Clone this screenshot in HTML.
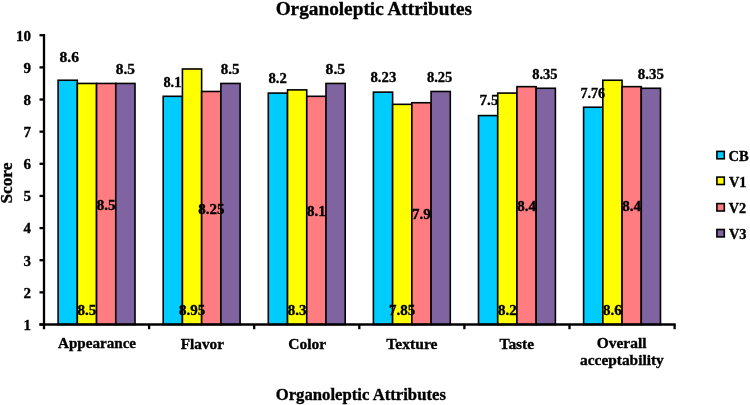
<!DOCTYPE html>
<html><head><meta charset="utf-8"><style>
html,body{margin:0;padding:0;background:#fff;width:750px;height:405px;overflow:hidden}
svg{display:block;will-change:transform}
text{font-family:"Liberation Serif",serif;font-weight:bold;fill:#000;stroke:#000;stroke-width:0.35px}
</style></head><body>
<svg width="750" height="405" viewBox="0 0 750 405">
<rect x="58.10" y="80.24" width="19.22" height="244.26" fill="#00CCFF" stroke="#000" stroke-width="1.6"/>
<rect x="77.33" y="83.45" width="19.22" height="241.05" fill="#FFFF00" stroke="#000" stroke-width="1.6"/>
<rect x="96.55" y="83.45" width="19.22" height="241.05" fill="#FF7C80" stroke="#000" stroke-width="1.6"/>
<rect x="115.78" y="83.45" width="19.22" height="241.05" fill="#8064A2" stroke="#000" stroke-width="1.6"/>
<rect x="163.20" y="96.31" width="19.22" height="228.19" fill="#00CCFF" stroke="#000" stroke-width="1.6"/>
<rect x="182.42" y="68.99" width="19.22" height="255.51" fill="#FFFF00" stroke="#000" stroke-width="1.6"/>
<rect x="201.65" y="91.48" width="19.22" height="233.02" fill="#FF7C80" stroke="#000" stroke-width="1.6"/>
<rect x="220.88" y="83.45" width="19.22" height="241.05" fill="#8064A2" stroke="#000" stroke-width="1.6"/>
<rect x="268.30" y="93.09" width="19.22" height="231.41" fill="#00CCFF" stroke="#000" stroke-width="1.6"/>
<rect x="287.53" y="89.88" width="19.22" height="234.62" fill="#FFFF00" stroke="#000" stroke-width="1.6"/>
<rect x="306.75" y="96.31" width="19.22" height="228.19" fill="#FF7C80" stroke="#000" stroke-width="1.6"/>
<rect x="325.98" y="83.45" width="19.22" height="241.05" fill="#8064A2" stroke="#000" stroke-width="1.6"/>
<rect x="373.40" y="92.13" width="19.22" height="232.37" fill="#00CCFF" stroke="#000" stroke-width="1.6"/>
<rect x="392.62" y="104.34" width="19.22" height="220.16" fill="#FFFF00" stroke="#000" stroke-width="1.6"/>
<rect x="411.85" y="102.73" width="19.22" height="221.77" fill="#FF7C80" stroke="#000" stroke-width="1.6"/>
<rect x="431.07" y="91.48" width="19.22" height="233.02" fill="#8064A2" stroke="#000" stroke-width="1.6"/>
<rect x="478.50" y="115.59" width="19.22" height="208.91" fill="#00CCFF" stroke="#000" stroke-width="1.6"/>
<rect x="497.73" y="93.09" width="19.22" height="231.41" fill="#FFFF00" stroke="#000" stroke-width="1.6"/>
<rect x="516.95" y="86.66" width="19.22" height="237.84" fill="#FF7C80" stroke="#000" stroke-width="1.6"/>
<rect x="536.17" y="88.27" width="19.22" height="236.23" fill="#8064A2" stroke="#000" stroke-width="1.6"/>
<rect x="583.60" y="107.23" width="19.22" height="217.27" fill="#00CCFF" stroke="#000" stroke-width="1.6"/>
<rect x="602.83" y="80.24" width="19.22" height="244.26" fill="#FFFF00" stroke="#000" stroke-width="1.6"/>
<rect x="622.05" y="86.66" width="19.22" height="237.84" fill="#FF7C80" stroke="#000" stroke-width="1.6"/>
<rect x="641.27" y="88.27" width="19.22" height="236.23" fill="#8064A2" stroke="#000" stroke-width="1.6"/>
<line x1="44.0" y1="34" x2="44.0" y2="329.2" stroke="#000" stroke-width="2.3"/>
<line x1="39.5" y1="324.5" x2="675.6999999999999" y2="324.5" stroke="#000" stroke-width="2.3"/>
<line x1="39.5" y1="324.50" x2="44.0" y2="324.50" stroke="#000" stroke-width="2.3"/>
<line x1="39.5" y1="292.36" x2="44.0" y2="292.36" stroke="#000" stroke-width="2.3"/>
<line x1="39.5" y1="260.22" x2="44.0" y2="260.22" stroke="#000" stroke-width="2.3"/>
<line x1="39.5" y1="228.08" x2="44.0" y2="228.08" stroke="#000" stroke-width="2.3"/>
<line x1="39.5" y1="195.94" x2="44.0" y2="195.94" stroke="#000" stroke-width="2.3"/>
<line x1="39.5" y1="163.80" x2="44.0" y2="163.80" stroke="#000" stroke-width="2.3"/>
<line x1="39.5" y1="131.66" x2="44.0" y2="131.66" stroke="#000" stroke-width="2.3"/>
<line x1="39.5" y1="99.52" x2="44.0" y2="99.52" stroke="#000" stroke-width="2.3"/>
<line x1="39.5" y1="67.38" x2="44.0" y2="67.38" stroke="#000" stroke-width="2.3"/>
<line x1="39.5" y1="35.24" x2="44.0" y2="35.24" stroke="#000" stroke-width="2.3"/>
<line x1="149.10" y1="324.5" x2="149.10" y2="329.2" stroke="#000" stroke-width="2.3"/>
<line x1="254.20" y1="324.5" x2="254.20" y2="329.2" stroke="#000" stroke-width="2.3"/>
<line x1="359.30" y1="324.5" x2="359.30" y2="329.2" stroke="#000" stroke-width="2.3"/>
<line x1="464.40" y1="324.5" x2="464.40" y2="329.2" stroke="#000" stroke-width="2.3"/>
<line x1="569.50" y1="324.5" x2="569.50" y2="329.2" stroke="#000" stroke-width="2.3"/>
<line x1="674.60" y1="324.5" x2="674.60" y2="329.2" stroke="#000" stroke-width="2.3"/>
<rect x="716.9" y="151.40" width="7.4" height="7.4" fill="#00CCFF" stroke="#000" stroke-width="1.6"/>
<rect x="716.9" y="177.10" width="7.4" height="7.4" fill="#FFFF00" stroke="#000" stroke-width="1.6"/>
<rect x="716.9" y="203.60" width="7.4" height="7.4" fill="#FF7C80" stroke="#000" stroke-width="1.6"/>
<rect x="716.9" y="229.50" width="7.4" height="7.4" fill="#8064A2" stroke="#000" stroke-width="1.6"/>
<text text-anchor="middle" style="font-size:15px" transform="translate(69.30,62.10) scale(1.0389,1)">8.6</text>
<text text-anchor="middle" style="font-size:15px" transform="translate(86.94,314.90) scale(1.0000,1)">8.5</text>
<text text-anchor="middle" style="font-size:15px" transform="translate(106.16,209.57) scale(1.0000,1)">8.5</text>
<text text-anchor="middle" style="font-size:15px" transform="translate(125.30,73.90) scale(1.0278,1)">8.5</text>
<text text-anchor="middle" style="font-size:15px" transform="translate(172.40,86.50) scale(0.9556,1)">8.1</text>
<text text-anchor="middle" style="font-size:15px" transform="translate(192.04,314.90) scale(1.0000,1)">8.95</text>
<text text-anchor="middle" style="font-size:15px" transform="translate(211.26,213.59) scale(1.0000,1)">8.25</text>
<text text-anchor="middle" style="font-size:15px" transform="translate(230.20,74.00) scale(1.0000,1)">8.5</text>
<text text-anchor="middle" style="font-size:15px" transform="translate(277.60,83.20) scale(0.9778,1)">8.2</text>
<text text-anchor="middle" style="font-size:15px" transform="translate(297.14,314.90) scale(1.0000,1)">8.3</text>
<text text-anchor="middle" style="font-size:15px" transform="translate(316.36,216.00) scale(1.0000,1)">8.1</text>
<text text-anchor="middle" style="font-size:15px" transform="translate(335.40,73.80) scale(1.0444,1)">8.5</text>
<text text-anchor="middle" style="font-size:15px" transform="translate(383.40,82.00) scale(0.9846,1)">8.23</text>
<text text-anchor="middle" style="font-size:15px" transform="translate(402.24,314.90) scale(1.0000,1)">7.85</text>
<text text-anchor="middle" style="font-size:15px" transform="translate(421.46,219.22) scale(1.0000,1)">7.9</text>
<text text-anchor="middle" style="font-size:15px" transform="translate(439.60,81.60) scale(0.9692,1)">8.25</text>
<text text-anchor="middle" style="font-size:15px" transform="translate(489.00,105.10) scale(1.0111,1)">7.5</text>
<text text-anchor="middle" style="font-size:15px" transform="translate(507.34,314.90) scale(1.0000,1)">8.2</text>
<text text-anchor="middle" style="font-size:15px" transform="translate(526.56,211.18) scale(1.0000,1)">8.4</text>
<text text-anchor="middle" style="font-size:15px" transform="translate(544.90,78.80) scale(0.9654,1)">8.35</text>
<text text-anchor="middle" style="font-size:15px" transform="translate(592.80,97.60) scale(0.9462,1)">7.76</text>
<text text-anchor="middle" style="font-size:15px" transform="translate(612.44,314.90) scale(1.0000,1)">8.6</text>
<text text-anchor="middle" style="font-size:15px" transform="translate(631.66,211.18) scale(1.0000,1)">8.4</text>
<text text-anchor="middle" style="font-size:15px" transform="translate(650.90,78.50) scale(0.9962,1)">8.35</text>
<text x="31" y="329.90" text-anchor="end" style="font-size:15px" transform="translate(0.000,0) scale(1.0000,1)">1</text>
<text x="31" y="297.76" text-anchor="end" style="font-size:15px" transform="translate(0.000,0) scale(1.0000,1)">2</text>
<text x="31" y="265.62" text-anchor="end" style="font-size:15px" transform="translate(0.000,0) scale(1.0000,1)">3</text>
<text x="31" y="233.48" text-anchor="end" style="font-size:15px" transform="translate(0.000,0) scale(1.0000,1)">4</text>
<text x="31" y="201.34" text-anchor="end" style="font-size:15px" transform="translate(0.000,0) scale(1.0000,1)">5</text>
<text x="31" y="169.20" text-anchor="end" style="font-size:15px" transform="translate(0.000,0) scale(1.0000,1)">6</text>
<text x="31" y="137.06" text-anchor="end" style="font-size:15px" transform="translate(0.000,0) scale(1.0000,1)">7</text>
<text x="31" y="104.92" text-anchor="end" style="font-size:15px" transform="translate(0.000,0) scale(1.0000,1)">8</text>
<text x="31" y="72.78" text-anchor="end" style="font-size:15px" transform="translate(0.000,0) scale(1.0000,1)">9</text>
<text x="31" y="40.64" text-anchor="end" style="font-size:15px" transform="translate(0.000,0) scale(1.0000,1)">10</text>
<text text-anchor="middle" style="font-size:15px" transform="translate(97.00,348.40) scale(1.0091,1)">Appearance</text>
<text text-anchor="middle" style="font-size:15px" transform="translate(202.40,348.60) scale(1.0190,1)">Flavor</text>
<text text-anchor="middle" style="font-size:15px" transform="translate(307.20,348.70) scale(1.0333,1)">Color</text>
<text text-anchor="middle" style="font-size:15px" transform="translate(411.90,348.50) scale(1.0408,1)">Texture</text>
<text text-anchor="middle" style="font-size:15px" transform="translate(516.80,348.70) scale(1.0294,1)">Taste</text>
<text text-anchor="middle" style="font-size:15px" transform="translate(621.60,347.90) scale(1.0292,1)">Overall</text>
<text text-anchor="middle" style="font-size:15px" transform="translate(621.90,365.40) scale(1.0272,1)">acceptability</text>
<text text-anchor="middle" style="font-size:14px" transform="translate(738.60,160.80) scale(1.0368,1)">CB</text>
<text text-anchor="middle" style="font-size:14px" transform="translate(737.70,186.50) scale(1.0187,1)">V1</text>
<text text-anchor="middle" style="font-size:14px" transform="translate(737.50,212.80) scale(1.0118,1)">V2</text>
<text text-anchor="middle" style="font-size:14px" transform="translate(737.70,239.10) scale(1.0235,1)">V3</text>
<text text-anchor="middle" style="font-size:19px" transform="translate(373.80,14.70) scale(1.0146,1)">Organoleptic Attributes</text>
<text text-anchor="middle" style="font-size:17px" transform="translate(360.80,399.90) scale(0.9832,1)">Organoleptic Attributes</text>
<text transform="translate(12.3,183.1) rotate(-90) scale(1.08,1)" text-anchor="middle" style="font-size:16px">Score</text>
</svg>
</body></html>
